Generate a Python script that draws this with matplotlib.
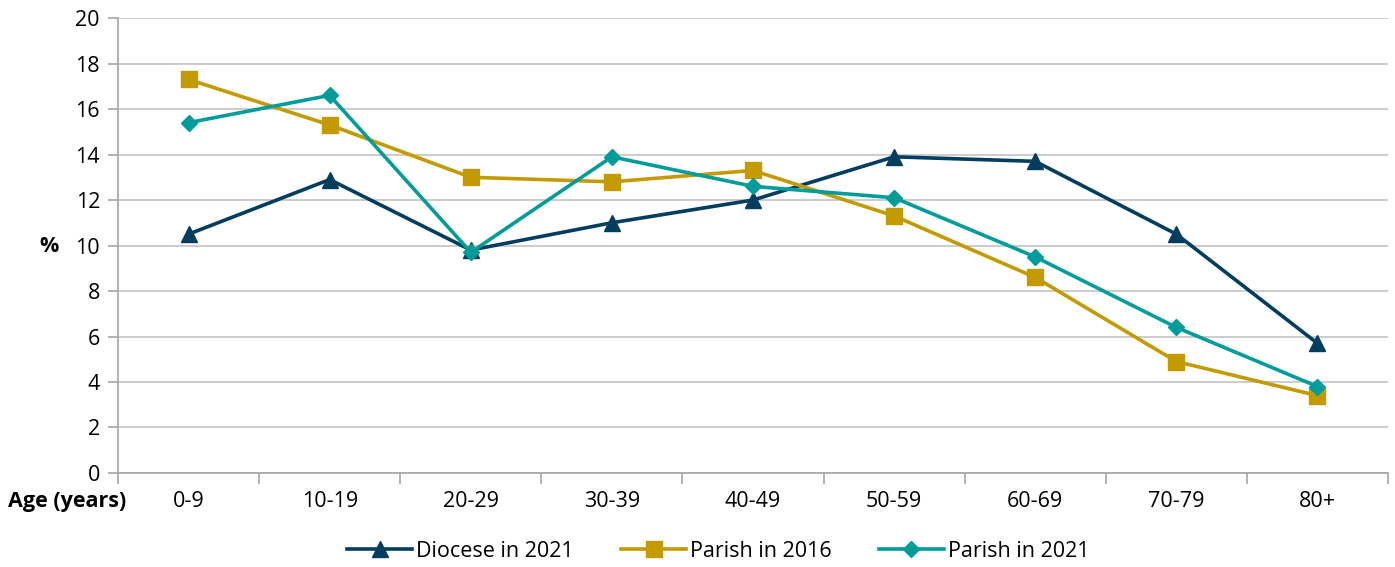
import numpy as np
import matplotlib.pyplot as plt
from matplotlib import font_manager

# font: prefer a narrow Calibri-like face if present
names = set(f.name for f in font_manager.fontManager.ttflist)
fam = 'Liberation Sans Narrow' if 'Liberation Sans Narrow' in names else 'Open Sans'
plt.rcParams['font.family'] = [fam, 'DejaVu Sans']

# data
ages = ['0-9', '10-19', '20-29', '30-39', '40-49', '50-59', '60-69', '70-79', '80+']
diocese_2021 = [10.5, 12.9, 9.8, 11.0, 12.0, 13.9, 13.7, 10.5, 5.7]
parish_2016 = [17.3, 15.3, 13.0, 12.8, 13.3, 11.3, 8.6, 4.9, 3.4]
parish_2021 = [15.4, 16.6, 9.7, 13.9, 12.6, 12.1, 9.5, 6.4, 3.8]

c_dio = '#003D5E'
c_p16 = '#C39B00'
c_p21 = '#009C99'

fig = plt.figure(figsize=(13.95, 5.67), dpi=100)
ax = fig.add_axes([0.0846, 0.1658, 0.9104, 0.8024])

x = np.arange(len(ages))
ax.plot(x, diocese_2021, color=c_dio, lw=2.6, marker='^', ms=12, label='Diocese in 2021', zorder=3)
ax.plot(x, parish_2016, color=c_p16, lw=2.6, marker='s', ms=11.5, label='Parish in 2016', zorder=4)
ax.plot(x, parish_2021, color=c_p21, lw=2.6, marker='D', ms=8.5, label='Parish in 2021', zorder=5)

ax.set_xlim(-0.5, len(ages) - 0.5)
ax.set_ylim(0, 20)
ax.set_yticks(np.arange(0, 21, 2))
ax.yaxis.grid(True, color='#C8C8C8', lw=1.3)
ax.set_axisbelow(True)

ax.set_xticks(x)
ax.set_xticklabels(ages)
ax.set_xticks(np.arange(-0.5, len(ages)), minor=True)
ax.tick_params(axis='x', which='major', length=0, pad=13, labelsize=15.5)
ax.tick_params(axis='x', which='minor', length=8, color='#A6A6A6', width=1.2)
ax.tick_params(axis='y', length=7, color='#A6A6A6', width=1.2, labelsize=15.5, pad=6)

for s in ['top', 'right']:
    ax.spines[s].set_visible(False)
for s in ['left', 'bottom']:
    ax.spines[s].set_color('#A6A6A6')
    ax.spines[s].set_linewidth(1.2)

fig.text(0.006, 0.115, 'Age (years)', fontsize=15.5, fontweight='bold', va='center', ha='left')
fig.text(0.035, 0.566, '%', fontsize=15.5, fontweight='bold', va='center', ha='center')

fig.legend(loc='center', bbox_to_anchor=(0.515, 0.028), ncol=3, frameon=False,
           fontsize=15.5, handlelength=3, columnspacing=2.2, handletextpad=0.2,
           borderaxespad=0)

fig.savefig('out.png', dpi=100)
